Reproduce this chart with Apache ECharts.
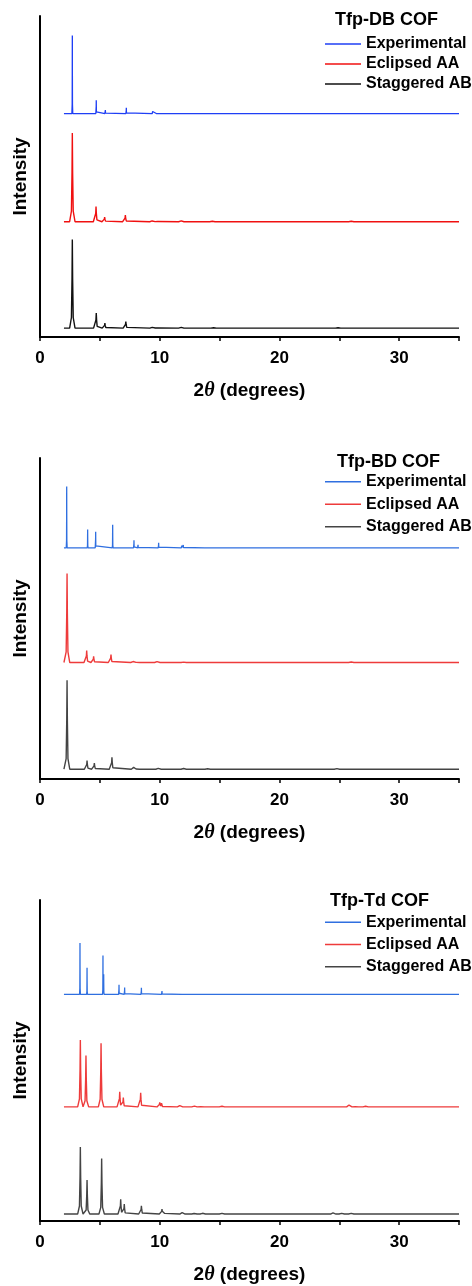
<!DOCTYPE html>
<html>
<head>
<meta charset="utf-8">
<script src="https://cdn.jsdelivr.net/npm/echarts@6/dist/echarts.min.js"></script>
<style>
  html, body { margin: 0; padding: 0; background: #fff; }
  #chart { width: 472px; height: 1286px; }
</style>
</head>
<body>
<div id="chart"></div>
<script>
// peak lists: [2theta, relative intensity]
const dbExperimental = [[2.70, 88], [4.70, 15], [5.46, 4], [7.21, 6.4], [9.41, 2.3], [9.75, 1.6], [11.83, 0.8]];
const dbEclipsed = [[2.70, 100], [4.68, 17], [5.40, 5.3], [7.13, 7.5], [9.39, 1.6], [9.75, 1.6], [11.8, 1], [14.4, 0.6], [26.0, 0.6]];
const dbStaggered = [[2.70, 100], [4.70, 17], [5.42, 5.6], [7.17, 7.5], [9.40, 1.6], [9.75, 1.2], [11.8, 0.8], [14.5, 0.5], [24.9, 0.5]];

const bdExperimental = [[2.23, 69], [3.98, 20.6], [4.65, 18], [6.07, 26], [7.85, 8.6], [8.19, 3.4], [9.91, 5.6], [11.84, 2.6], [11.97, 3], [13.8, 1.5]];
const bdEclipsed = [[2.26, 100], [3.90, 13.5], [4.48, 7], [5.93, 9], [7.80, 2], [8.10, 1], [9.80, 1.7], [12.0, 0.5], [26.0, 0.6]];
const bdStaggered = [[2.26, 100], [3.93, 9.7], [4.54, 7], [6.01, 13.5], [7.85, 3.7], [8.10, 1], [9.90, 1.7], [12.0, 0.8], [14.0, 0.5], [24.8, 0.6]];

const tdExperimental = [[3.34, 76.6], [3.93, 39.8], [5.26, 58], [5.32, 30], [6.60, 14.5], [7.07, 10.4], [8.47, 10], [10.19, 5], [10.35, 3], [11.9, 2], [12.8, 1.5], [13.7, 1.5], [15.2, 1.5]];
const tdEclipsed = [[3.37, 100], [3.84, 76.6], [5.10, 95], [6.66, 22.4], [6.96, 13.9], [8.41, 21], [10.0, 6.5], [10.15, 5], [11.7, 3.5], [12.9, 1.2], [13.5, 1.5], [15.2, 1], [25.84, 5], [26.4, 2], [27.2, 1]];
const tdStaggered = [[3.37, 100], [3.93, 50.7], [5.15, 83], [6.74, 22], [7.04, 15], [8.47, 12.4], [10.19, 7], [10.35, 4.5], [11.9, 4], [12.9, 1.5], [13.6, 2], [15.2, 1], [24.5, 3], [25.2, 1], [26.0, 1]];

const panelTitles = ["Tfp-DB COF", "Tfp-BD COF", "Tfp-Td COF"];
const seriesNames = ["Experimental", "Eclipsed AA", "Staggered AB"];
const xTicks = [0, 10, 20, 30];
const scanRange = [2, 35];

const panels = [
  { peaks: [dbExperimental, dbEclipsed, dbStaggered], offsets: [242, 120, 0], yMin: -10, yMax: 352,
    colors: ["#1f3ff5", "#f01010", "#111111"], top: 16, titleTop: 11, legendTop: 34, legendLine: 20, titleLeft: 335 },
  { peaks: [bdExperimental, bdEclipsed, bdStaggered], offsets: [249, 120, 0], yMin: -11, yMax: 350,
    colors: ["#2f6fe0", "#ee3b3b", "#444444"], top: 458, titleTop: 453, legendTop: 470.5, legendLine: 22.5, titleLeft: 337 },
  { peaks: [tdExperimental, tdEclipsed, tdStaggered], offsets: [328, 160, 0], yMin: -10.4, yMax: 469,
    colors: ["#2f6fe0", "#ee3b3b", "#444444"], top: 900, titleTop: 892, legendTop: 911, legendLine: 22.3, titleLeft: 330 },
];

// line profile for drawing each peak (experimental peaks are narrower)
const PROFILE_D = [-3, -1, -0.35, 0, 0.35, 1, 3];
const PROFILE_F = [0, 0.12, 0.55, 1, 0.55, 0.12, 0];

const profileAt = (dx, w) => {
  const t = dx / w;
  if (t <= PROFILE_D[0] || t >= PROFILE_D[PROFILE_D.length - 1]) return 0;
  for (let i = 0; i < PROFILE_D.length - 1; i++) {
    if (t >= PROFILE_D[i] && t <= PROFILE_D[i + 1]) {
      const k = (t - PROFILE_D[i]) / (PROFILE_D[i + 1] - PROFILE_D[i]);
      return PROFILE_F[i] + k * (PROFILE_F[i + 1] - PROFILE_F[i]);
    }
  }
  return 0;
};

const buildLine = (peaks, w, offset) => {
  let xs = [scanRange[0], scanRange[1]];
  peaks.forEach(([p]) => PROFILE_D.forEach((d) => xs.push(p + d * w)));
  xs = [...new Set(xs.map((x) => +x.toFixed(4)))].sort((a, b) => a - b);
  return xs.map((x) => [x, offset + peaks.reduce((s, [p, h]) => s + h * profileAt(x - p, w), 0)]);
};

const font = "'Liberation Sans', Arial, sans-serif";
const grid = [], xAxis = [], yAxis = [], series = [], title = [], legend = [];

panels.forEach((panel, i) => {
  grid.push({ left: 40, top: panel.top, width: 419, height: 321 });
  xAxis.push({
    type: "value", gridIndex: i, min: 0, max: 35, interval: 5,
    name: "2{i|θ} (degrees)", nameLocation: "middle", nameGap: 44,
    nameTextStyle: {
      fontFamily: font, fontSize: 19, fontWeight: "bold", color: "#000",
      rich: { i: { fontFamily: "'Liberation Serif', serif", fontStyle: "italic", fontSize: 20, color: "#000" } },
    },
    axisLine: { onZero: false, lineStyle: { color: "#000", width: 2 } },
    axisTick: { length: 4, lineStyle: { color: "#000", width: 1.5 } },
    splitLine: { show: false },
    axisLabel: {
      margin: 13, fontFamily: font, fontSize: 17, fontWeight: "bold", color: "#000",
      formatter: (v) => (xTicks.includes(v) ? String(v) : ""),
    },
  });
  yAxis.push({
    type: "value", gridIndex: i, min: panel.yMin, max: panel.yMax,
    name: "Intensity", nameLocation: "middle", nameGap: 10, nameRotate: 90,
    nameTextStyle: { fontFamily: font, fontSize: 19, fontWeight: "bold", color: "#000" },
    axisLine: { show: true, onZero: false, lineStyle: { color: "#000", width: 2 } },
    axisTick: { show: false }, axisLabel: { show: false }, splitLine: { show: false },
  });
  panel.peaks.forEach((peaks, j) => {
    series.push({
      type: "line", name: seriesNames[j], xAxisIndex: i, yAxisIndex: i,
      data: buildLine(peaks, j === 0 ? 0.012 : 0.075, panel.offsets[j]),
      showSymbol: false, animation: false, silent: true,
      lineStyle: { color: panel.colors[j], width: j === 0 ? 1.3 : 1.4 },
      itemStyle: { color: panel.colors[j] },
    });
  });
  title.push({
    text: panelTitles[i], left: panel.titleLeft, top: panel.titleTop, padding: 0,
    textStyle: { fontFamily: font, fontSize: 18, fontWeight: "bold", color: "#000" },
  });
  legend.push({
    orient: "vertical", left: 325, top: panel.legendTop, itemGap: 0, padding: 0,
    itemWidth: 36, itemHeight: 1.5, icon: "rect", selectedMode: false,
    textStyle: { fontFamily: font, fontSize: 16, fontWeight: "bold", color: "#000", lineHeight: panel.legendLine },
    data: seriesNames.map((n, j) => ({ name: n, itemStyle: { color: panel.colors[j] } })),
  });
});

const chart = echarts.init(document.getElementById("chart"));
chart.setOption({ animation: false, title, legend, grid, xAxis, yAxis, series });
</script>
</body>
</html>
